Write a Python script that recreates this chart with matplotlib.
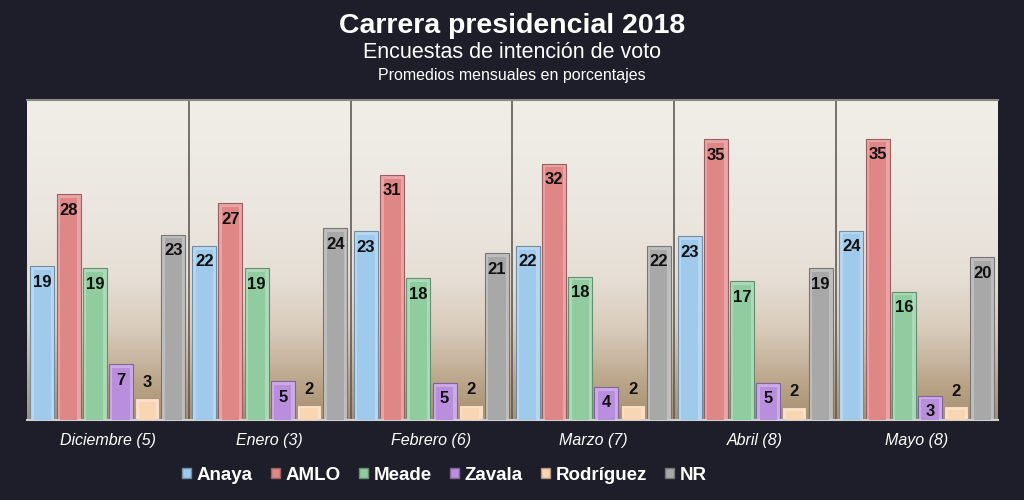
import matplotlib
matplotlib.use('Agg')
import matplotlib.pyplot as plt
import numpy as np
from matplotlib.colors import LinearSegmentedColormap, to_rgb
from matplotlib.patches import Patch

plt.rcParams['font.family'] = ['Liberation Sans', 'DejaVu Sans']

months = ['Diciembre (5)', 'Enero (3)', 'Febrero (6)', 'Marzo (7)', 'Abril (8)', 'Mayo (8)']
candidates = ['Anaya', 'AMLO', 'Meade', 'Zavala', 'Rodríguez', 'NR']
colors = ['#9fcaec', '#df8787', '#90cc9f', '#b98fdd', '#f8d5b3', '#a8a8a8']

# bar heights (monthly averages)
anaya = [19.1, 21.6, 23.4, 21.6, 22.8, 23.5]
amlo = [28.0, 26.9, 30.4, 31.8, 34.8, 34.9]
meade = [18.8, 18.8, 17.6, 17.8, 17.2, 15.9]
zavala = [6.9, 4.8, 4.6, 4.1, 4.6, 3.0]
rodriguez = [2.7, 1.9, 1.9, 1.9, 1.6, 1.7]
nr = [23.0, 23.8, 20.7, 21.6, 18.8, 20.2]

# labels as printed on the chart
anaya_lbl = [19, 22, 23, 22, 23, 24]
amlo_lbl = [28, 27, 31, 32, 35, 35]
meade_lbl = [19, 19, 18, 18, 17, 16]
zavala_lbl = [7, 5, 5, 4, 5, 3]
rodriguez_lbl = [3, 2, 2, 2, 2, 2]
nr_lbl = [23, 24, 21, 22, 19, 20]

series = [anaya, amlo, meade, zavala, rodriguez, nr]
labels = [anaya_lbl, amlo_lbl, meade_lbl, zavala_lbl, rodriguez_lbl, nr_lbl]

bg = '#1d1e2a'
fig = plt.figure(figsize=(10.24, 5), dpi=100, facecolor=bg)
ax = fig.add_axes([0.0264, 0.16, 0.948, 0.64])

ymax = 39.7
xlim = (-0.5, len(months) - 0.5)
ax.set_xlim(xlim)
ax.set_ylim(0, ymax)

# background gradient of the plot area
grad = LinearSegmentedColormap.from_list('bg', [
    (0.0, '#a88f6e'), (0.12, '#bba68b'), (0.28, '#d8cbbb'),
    (0.45, '#e6dfd6'), (0.7, '#ece8e1'), (1.0, '#f1eee8')])
g = np.linspace(0, 1, 256).reshape(-1, 1)
ax.imshow(g, cmap=grad, origin='lower', aspect='auto',
          extent=[xlim[0], xlim[1], 0, ymax], zorder=0)

x = np.arange(len(months))
w = 0.148
offsets = (np.arange(6) - 2.5) * 0.162

def lighten(c, f):
    r = np.array(to_rgb(c))
    return tuple(r + (1 - r) * f)

def darken(c, f):
    return tuple(np.array(to_rgb(c)) * (1 - f))

for i, (vals, lbls, c) in enumerate(zip(series, labels, colors)):
    xs = x + offsets[i]
    ax.bar(xs, vals, width=w, color=lighten(c, 0.25), edgecolor=darken(c, 0.3),
           linewidth=0.8, zorder=2)
    ax.bar(xs, np.array(vals) - 0.45, width=w * 0.72, color=c, linewidth=0, zorder=3)
    for xi, v, l in zip(xs, vals, lbls):
        dy = 11 if i == 4 else -11.5
        ax.annotate(str(l), (xi, v), xytext=(0, dy), textcoords='offset points',
                    ha='center', va='center', fontsize=12, fontweight='bold',
                    color='#111111', zorder=4)

# group dividers
for b in x[:-1] + 0.5:
    ax.axvline(b, color='#5f5b58', linewidth=1.2, zorder=1)

for s in ['left', 'right']:
    ax.spines[s].set_visible(False)
ax.spines['top'].set_color('#8a8784')
ax.spines['top'].set_linewidth(1.5)
ax.spines['bottom'].set_color('#d0d0d0')
ax.spines['bottom'].set_linewidth(1.5)

ax.set_xticks(x)
ax.set_xticklabels(months, fontsize=11.5, style='italic', color='white')
ax.tick_params(axis='x', length=0, pad=9)
ax.set_yticks([])

fig.text(0.5, 0.948, 'Carrera presidencial 2018', ha='center', va='center',
         fontsize=20.5, fontweight='bold', color='white')
fig.text(0.5, 0.894, 'Encuestas de intención de voto', ha='center', va='center',
         fontsize=15.5, color='white')
fig.text(0.5, 0.849, 'Promedios mensuales en porcentajes', ha='center', va='center',
         fontsize=11.5, color='white')

handles = [Patch(facecolor=c, edgecolor=darken(c, 0.3)) for c in colors]
leg = fig.legend(handles, candidates, loc='center', bbox_to_anchor=(0.434, 0.05),
                 ncol=6, frameon=False, handlelength=0.5, handleheight=0.5,
                 handletextpad=0.3, columnspacing=0.95,
                 prop={'size': 13.5, 'weight': 'bold'})
for t in leg.get_texts():
    t.set_color('white')

fig.savefig('out.png', dpi=100, facecolor=bg)
